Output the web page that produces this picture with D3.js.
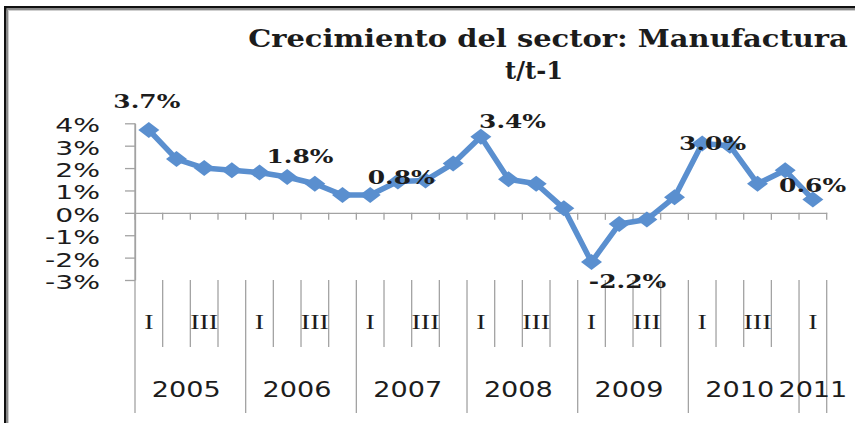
<!DOCTYPE html>
<html><head><meta charset="utf-8">
<script src="https://cdn.jsdelivr.net/npm/d3@7"></script>
<style>body{margin:0;background:#fff;overflow:hidden}</style>
</head><body><svg id="c" width="855" height="423"></svg>
<script>
// ---------- data ----------
const years = ["2005","2006","2007","2008","2009","2010","2011"];
const quartersPerYear = [4,4,4,4,4,4,1];
const quarterNames = ["I","II","III","IV"];
const values = [3.7,2.4,2.0,1.9,1.8,1.6,1.3,0.8,0.8,1.4,1.45,2.2,3.4,1.5,1.3,0.2,-2.2,-0.5,-0.3,0.7,3.1,3.0,1.3,1.9,0.6];
const yTicks = [4,3,2,1,0,-1,-2,-3];
const labelledIdx = [0,4,8,12,16,21,24];
const titleLines = ["Crecimiento del sector: Manufactura","t/t-1"];

// ---------- layout ----------
const svg = d3.select("#c");
const blue = "#5A8FCF", gray = "#a3a3a3", ink = "#1c1c1c";
const X0 = 135, X1 = 826.7, Y0 = 280, Y1 = 123.3;
const qRowBottom = 347, yearRowBottom = 413;

const cats = [];
years.forEach((yr, yi) => { for (let q = 0; q < quartersPerYear[yi]; q++) cats.push({year: yr, q, key: yr + "-" + q}); });
const data = cats.map((c, i) => ({...c, v: values[i], i}));

const x = d3.scaleBand().domain(cats.map(c => c.key)).range([X0, X1]).padding(0);
const y = d3.scaleLinear().domain([-3, 4]).range([Y0, Y1]);

// horizontal stretch helper
function stretch(sel, refText, target) {
  const probe = svg.append("text").attr("font-family", sel.attr("font-family")).attr("font-size", sel.attr("font-size")).attr("font-weight", sel.attr("font-weight")).text(refText);
  const w = probe.node().getComputedTextLength(); probe.remove();
  return target / w;
}

// frame
svg.append("rect").attr("x", 4).attr("y", 6).attr("width", 851).attr("height", 2.5).attr("fill", "#111");
svg.append("rect").attr("x", 4).attr("y", 8.5).attr("width", 851).attr("height", 1.5).attr("fill", "#8a8a8a");
svg.append("rect").attr("x", 4).attr("y", 10).attr("width", 851).attr("height", 1).attr("fill", "#cfcfcf");
svg.append("rect").attr("x", 4).attr("y", 6).attr("width", 2.5).attr("height", 417).attr("fill", "#111");
svg.append("rect").attr("x", 6.5).attr("y", 8.5).attr("width", 1.5).attr("height", 415).attr("fill", "#8a8a8a");
svg.append("rect").attr("x", 8).attr("y", 10).attr("width", 1).attr("height", 413).attr("fill", "#cfcfcf");

// title
const tg = svg.append("g").attr("font-family", "DejaVu Serif").attr("font-weight", "bold").attr("font-size", 25).attr("fill", ink);
const tCenters = [[548, 46.5], [534, 78.5]];
const tWidths = [600, 58];
titleLines.forEach((t, i) => {
  const sx = stretch(tg, t, tWidths[i]);
  tg.append("text").attr("text-anchor", "middle").attr("transform", `translate(${tCenters[i][0]},${tCenters[i][1]}) scale(${sx},1)`).text(t);
});

// y axis
const yAxis = d3.axisLeft(y).tickValues(yTicks).tickSize(10).tickSizeOuter(0).tickFormat("");
const yg = svg.append("g").attr("transform", `translate(${X0},0)`).call(yAxis);
yg.selectAll("path,line").attr("stroke", gray).attr("stroke-width", 1.3);
const ylab = svg.append("g").attr("font-family", "DejaVu Sans").attr("font-size", 19).attr("fill", ink);
const ysx = stretch(ylab, "-3%", 55);
ylab.selectAll("text").data(yTicks).join("text").attr("text-anchor", "end")
  .attr("transform", d => `translate(100,${y(d) + 9}) scale(${ysx},1)`).text(d => d + "%");

// x axis at zero
const xAxis = d3.axisBottom(x).tickValues([]).tickSizeOuter(0);
const xg = svg.append("g").attr("transform", `translate(0,${y(0)})`).call(xAxis);
xg.select("path").attr("stroke", gray).attr("stroke-width", 1.3);
const bounds = cats.map(c => x(c.key)).concat([x.range()[1]]);
svg.append("g").selectAll("line").data(bounds).join("line")
  .attr("x1", d => d).attr("x2", d => d).attr("y1", y(0)).attr("y2", y(0) + 7).attr("stroke", gray).attr("stroke-width", 1.3);

// category separators in label rows
const groupStart = new Set(cats.filter(c => c.q === 0).map(c => x(c.key)));
groupStart.add(x.range()[1]);
svg.append("line").attr("x1", X0).attr("x2", X0).attr("y1", Y1).attr("y2", Y0).attr("stroke", gray).attr("stroke-width", 1.3);
svg.append("g").selectAll("line").data(bounds).join("line")
  .attr("x1", d => d).attr("x2", d => d).attr("y1", Y0)
  .attr("y2", d => groupStart.has(d) ? yearRowBottom : qRowBottom)
  .attr("stroke", gray).attr("stroke-width", 1.3);

// quarter labels (every other one shown)
const ql = svg.append("g").attr("font-family", "Liberation Serif").attr("font-size", 22).attr("fill", ink);
const qsx = stretch(ql, "III", 28);
ql.selectAll("text").data(data.filter(d => d.i % 2 === 0)).join("text").attr("text-anchor", "middle")
  .attr("transform", d => `translate(${x(d.key) + x.bandwidth() / 2},329) scale(${qsx},1)`).text(d => quarterNames[d.q]);

// year labels
const yl = svg.append("g").attr("font-family", "DejaVu Sans").attr("font-size", 22).attr("fill", ink);
const ylsx = stretch(yl, "2005", 69);
yl.selectAll("text").data(years).join("text").attr("text-anchor", "middle")
  .attr("transform", (yr, yi) => {
    const ks = cats.filter(c => c.year === yr);
    const a = x(ks[0].key), b = x(ks[ks.length - 1].key) + x.bandwidth();
    return `translate(${(a + b) / 2 - (ks.length > 1 ? 4 : 0)},396.5) scale(${ylsx},1)`;
  }).text(d => d);

// line
const cx = d => x(d.key) + x.bandwidth() / 2;
svg.append("path").datum(data).attr("fill", "none").attr("stroke", blue).attr("stroke-width", 5.5).attr("stroke-linejoin", "round")
  .attr("d", d3.line().x(cx).y(d => y(d.v)));
svg.append("g").selectAll("path").data(data).join("path").attr("fill", blue)
  .attr("transform", d => `translate(${cx(d)},${y(d.v)})`).attr("d", "M0,-8 L10.5,0 L0,8 L-10.5,0 Z");

// data labels
const labelOffsets = {0: [-2, -21.7], 4: [40.5, -9.2], 8: [31, -11], 12: [31.7, -8.4], 16: [36, 26.3], 21: [-17.3, 4.5], 24: [-0.3, -7.7]};
const dl = svg.append("g").attr("font-family", "DejaVu Serif").attr("font-weight", "bold").attr("font-size", 18).attr("fill", ink);
const dsx = stretch(dl, "3.7%", 67);
dl.selectAll("text").data(data.filter(d => labelledIdx.includes(d.i))).join("text").attr("text-anchor", "middle")
  .attr("transform", d => `translate(${cx(d) + labelOffsets[d.i][0]},${y(d.v) + labelOffsets[d.i][1]}) scale(${dsx},1)`)
  .text(d => d.v.toFixed(1) + "%");
</script></body></html>
